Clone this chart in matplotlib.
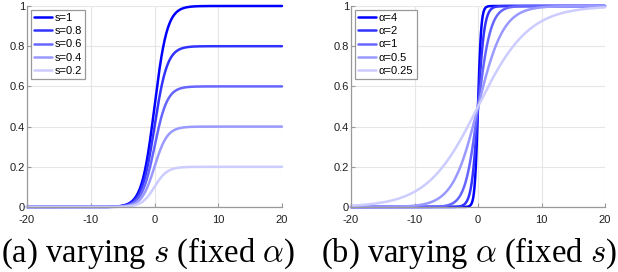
import numpy as np
import matplotlib
matplotlib.use("Agg")
import matplotlib.pyplot as plt

# Parameters read from the legends
s_values = [1, 0.8, 0.6, 0.4, 0.2]
s_labels = ["s=1", "s=0.8", "s=0.6", "s=0.4", "s=0.2"]
alpha_values = [4, 2, 1, 0.5, 0.25]
alpha_labels = ["\u03b1=4", "\u03b1=2", "\u03b1=1", "\u03b1=0.5", "\u03b1=0.25"]
fixed_alpha = 1.0
fixed_s = 1.0
xticks = [-20, -10, 0, 10, 20]
yticks = [0, 0.2, 0.4, 0.6, 0.8, 1]
yticklabels = ["0", "0.2", "0.4", "0.6", "0.8", "1"]
# colour lightness levels (blend of blue with white)
whiten = [0.0, 0.2, 0.4, 0.6, 0.8]

x = np.linspace(-20, 20, 801)

def sig(v):
    return 1.0 / (1.0 + np.exp(-v))

plt.rcParams['font.family'] = ['Liberation Sans', 'DejaVu Sans']
plt.rcParams['mathtext.fontset'] = 'cm'
plt.rcParams['axes.unicode_minus'] = False

W, H = 618, 272
fig = plt.figure(figsize=(W / 100, H / 100), dpi=100)

def make_ax(x0, x1, y0, y1):
    return fig.add_axes([x0 / W, 1 - y1 / H, (x1 - x0) / W, (y1 - y0) / H])

axL = make_ax(27, 282, 6, 207)
axR = make_ax(351, 605, 6, 207)

spine_c = (0.6, 0.6, 0.6)
for ax in (axL, axR):
    ax.set_xlim(-20, 20)
    ax.set_ylim(0, 1)
    ax.set_xticks(xticks)
    ax.set_yticks(yticks)
    ax.set_yticklabels(yticklabels)
    ax.grid(True, color=(0.9, 0.9, 0.9), linewidth=0.8)
    ax.set_axisbelow(True)
    for sp in ('top', 'right'):
        ax.spines[sp].set_visible(False)
    for sp in ('left', 'bottom'):
        ax.spines[sp].set_color(spine_c)
        ax.spines[sp].set_linewidth(0.9)
    ax.tick_params(direction='in', length=3, width=0.8, color=spine_c,
                   labelsize=8, labelcolor=(0.12, 0.12, 0.12))
    ax.tick_params(axis='x', pad=5.5)
    ax.tick_params(axis='y', pad=1.5)

for s, lab, w in zip(s_values, s_labels, whiten):
    axL.plot(x, s * sig(fixed_alpha * x), color=(w, w, 1.0), linewidth=1.8,
             label=lab, solid_capstyle='round', clip_on=False)
for a, lab, w in zip(alpha_values, alpha_labels, whiten):
    axR.plot(x, fixed_s * sig(a * x), color=(w, w, 1.0), linewidth=1.8,
             label=lab, solid_capstyle='round', clip_on=False)

for ax in (axL, axR):
    leg = ax.legend(loc='upper left', fontsize=8, frameon=True, fancybox=False,
                    handlelength=1.6, handletextpad=0.25, borderpad=0.3,
                    labelspacing=0.28, borderaxespad=0.35)
    leg.get_frame().set_edgecolor((0.6, 0.6, 0.6))
    leg.get_frame().set_linewidth(0.9)
    leg.get_frame().set_alpha(1)

cap_kw = dict(fontsize=23.5, family=['Liberation Serif', 'DejaVu Serif'],
              ha='center', va='baseline', color='black')
fig.text(148 / W, 1 - 262 / H, r"(a) varying $s$ (fixed $\alpha$)", **cap_kw)
fig.text(469 / W, 1 - 262 / H, r"(b) varying $\alpha$ (fixed $s$)", **cap_kw)

fig.savefig("out.png", dpi=100)
